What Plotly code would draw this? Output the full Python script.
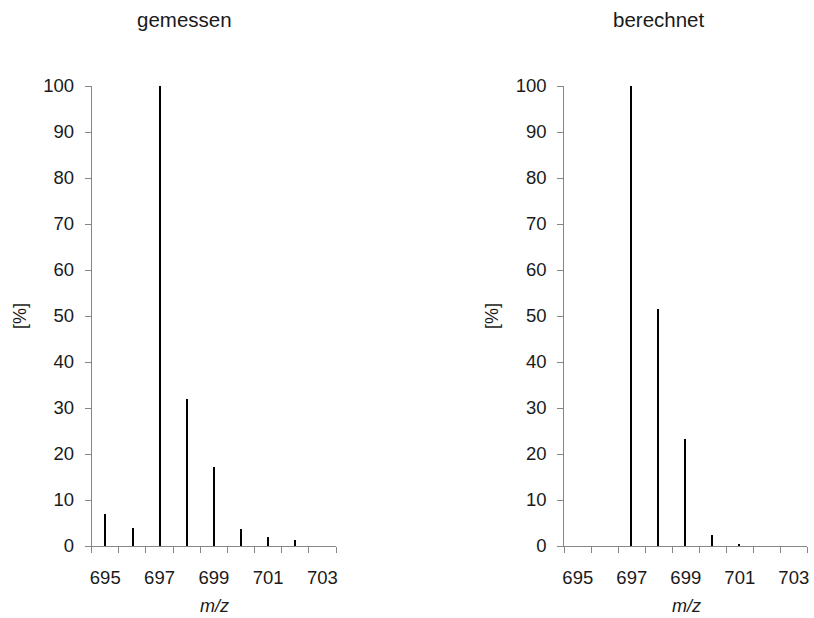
import plotly.graph_objects as go

# Data
mz_measured = [695, 696, 697, 698, 699, 700, 701, 702]
int_measured = [6.9, 4.0, 100, 32.0, 17.1, 3.6, 2.0, 1.2]
mz_calc = [697, 698, 699, 700, 701]
int_calc = [100, 51.5, 23.3, 2.3, 0.4]
x_tick_labels = [695, 697, 699, 701, 703]
x_boundaries = [694.5 + i for i in range(10)]
panel_titles = ["gemessen", "berechnet"]
y_title = "[%]"
x_title = "<i>m/z</i>"

W, H = 814, 618
FONT = "Liberation Sans, Arial, sans-serif"
AXC = "#868686"
TXT = "#1a1a1a"

fig = go.Figure()
fig.add_trace(go.Bar(x=mz_measured, y=int_measured, width=0.045,
                     marker=dict(color="black", line=dict(width=0)),
                     xaxis="x", yaxis="y", showlegend=False))
fig.add_trace(go.Bar(x=mz_calc, y=int_calc, width=0.045,
                     marker=dict(color="black", line=dict(width=0)),
                     xaxis="x2", yaxis="y2", showlegend=False))

def px_x(p):
    return p / W

def px_y(p):
    return 1 - p / H

ydom = [px_y(546), px_y(86)]

def xax(dom, anchor):
    return dict(domain=dom, anchor=anchor, range=[694.5, 703.5], automargin=False,
                tickvals=x_tick_labels, ticks="", showgrid=False, zeroline=False,
                showline=True, linecolor=AXC, linewidth=1,
                tickfont=dict(family=FONT, size=18.5, color=TXT),
                ticklabelstandoff=15,
                minor=dict(tickvals=x_boundaries, ticks="outside", ticklen=6,
                           tickcolor=AXC, tickwidth=1, showgrid=False),
                fixedrange=True)

def yax(anchor):
    return dict(domain=ydom, anchor=anchor, range=[0, 100], dtick=10, tick0=0,
                automargin=False,
                ticks="outside", ticklen=6, tickcolor=AXC, tickwidth=1,
                showgrid=False, zeroline=False, showline=True, linecolor=AXC, linewidth=1,
                tickfont=dict(family=FONT, size=18.5, color=TXT),
                ticklabelstandoff=7,
                fixedrange=True)

def ann(text, x, y, size, angle=0):
    return dict(text=text, x=px_x(x), y=px_y(y), xref="paper", yref="paper",
                showarrow=False, xanchor="center", yanchor="middle", textangle=angle,
                font=dict(family=FONT, size=size, color=TXT))

fig.update_layout(
    width=W, height=H,
    margin=dict(l=0, r=0, t=0, b=0),
    paper_bgcolor="white", plot_bgcolor="white",
    bargap=0,
    xaxis=xax([px_x(91.7), px_x(336)], "y"),
    yaxis=yax("x"),
    xaxis2=xax([px_x(564.3), px_x(807.3)], "y2"),
    yaxis2=yax("x2"),
    annotations=[
        ann(panel_titles[0], 184, 19, 20.5),
        ann(panel_titles[1], 658, 19, 20.5),
        ann(y_title, 20, 316, 18, -90),
        ann(y_title, 492, 316, 18, -90),
        ann(x_title, 214.5, 606, 18),
        ann(x_title, 686, 606, 18),
    ],
)

fig.write_html("out.html",
               config={"displayModeBar": False},
               post_script="document.body.style.margin='0';document.body.style.overflow='hidden';")
